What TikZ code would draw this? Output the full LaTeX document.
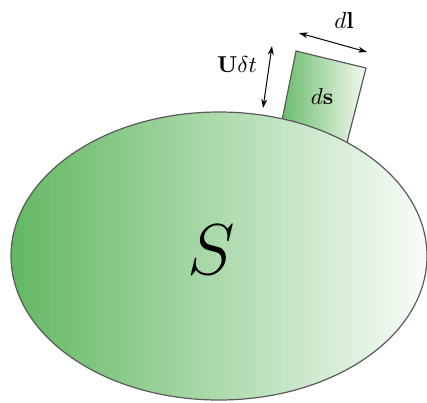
\RequirePackage{fix-cm}
\documentclass[tikz,border=0pt]{standalone}
\usepackage{amsmath, amssymb}
\usepackage{xcolor}
\usetikzlibrary{arrows.meta}
\definecolor{surf-green}{RGB}{98,184,98}
\definecolor{edge-gray}{HTML}{5A5A5A}

\begin{document}
\begin{tikzpicture}[x=1pt, y=-1pt, >={Stealth[length=9pt,width=6pt]},
      every node/.style={font=\fontsize{10}{12}\selectfont, scale=2.3}]
    \useasboundingbox (0,0) rectangle (427,402);
    % surface element, partly under the surface
    \shade[left color=surf-green, right color=white!92!surf-green,
           draw=edge-gray, line width=1.2pt]
          (296,51) -- (366,68) -- (340,170) -- (276,150) -- cycle;
    \node (ds) at (322,97) {$d\mathbf{s}$};
    % the surface itself
    \shade[left color=surf-green, right color=white!96!surf-green,
           draw=edge-gray, line width=1.2pt]
          (219,256) ellipse [x radius=208, y radius=144];
    \node[scale=1/2.3] (S) at (211,250) {\fontsize{72}{72}\selectfont $S$};
    % sizes of the element
    \coordinate (dl-a) at (299,33);
    \coordinate (dl-b) at (367,52);
    \coordinate (ut-a) at (272,46);
    \coordinate (ut-b) at (263,108);
    \draw[line width=1pt, <->] (dl-a) -- (dl-b);
    \node (dl) at (344,21) {$d\mathbf{l}$};
    \draw[line width=1pt, <->] (ut-a) -- (ut-b);
    \node (ut) at (237,65) {$\mathbf{U}\delta t$};
\end{tikzpicture}
\end{document}
